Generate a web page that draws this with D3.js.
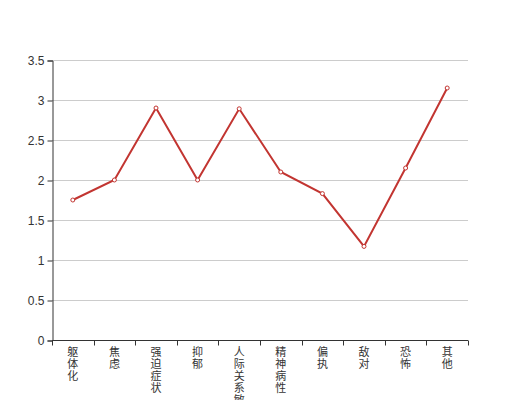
<!DOCTYPE html>
<html>
<head>
<meta charset="utf-8">
<script src="https://cdn.jsdelivr.net/npm/d3@7"></script>
<style>
body { margin: 0; background: #fff; }
text { font-family: "Noto Sans CJK SC", sans-serif; }
</style>
</head>
<body>
<div id="chart-area"></div>
<script>
const categories = ["躯体化", "焦虑", "强迫症状", "抑郁", "人际关系敏感", "精神病性", "偏执", "敌对", "恐怖", "其他"]
const values = [1.75, 2.0, 2.9, 2.0, 2.89, 2.1, 1.83, 1.17, 2.15, 3.15]
const yTicks = [0, 0.5, 1, 1.5, 2, 2.5, 3, 3.5]

const MARGIN = { LEFT: 52, RIGHT: 52, TOP: 60, BOTTOM: 60 }
const WIDTH = 520 - MARGIN.LEFT - MARGIN.RIGHT
const HEIGHT = 400 - MARGIN.TOP - MARGIN.BOTTOM

const svg = d3.select("#chart-area").append("svg")
	.attr("width", 520)
	.attr("height", 400)

const g = svg.append("g")
	.attr("transform", `translate(${MARGIN.LEFT}, ${MARGIN.TOP})`)

// scales
const x = d3.scaleBand().domain(categories).range([0, WIDTH])
const y = d3.scaleLinear().domain([0, 3.5]).range([HEIGHT, 0])

// grid lines
g.append("g")
	.selectAll("line")
	.data(yTicks.filter(d => d > 0))
	.enter().append("line")
	.attr("x1", 0)
	.attr("x2", WIDTH)
	.attr("y1", d => y(d) + 0.5)
	.attr("y2", d => y(d) + 0.5)
	.attr("stroke", "#ccc")

// y axis
const yAxis = g.append("g")
	.attr("transform", "translate(0.5, 0.5)")
	.call(d3.axisLeft(y).tickValues(yTicks).tickSize(5).tickPadding(3).tickFormat(d => d))
yAxis.select(".domain").attr("stroke", "#333")
yAxis.selectAll(".tick line").attr("stroke", "#333")
yAxis.selectAll(".tick text")
	.attr("fill", "#333")
	.attr("font-size", "12px")
	.style("font-family", "sans-serif")

// x axis, ticks on band boundaries
const xAxis = g.append("g")
	.attr("transform", `translate(0, ${HEIGHT + 0.5})`)
xAxis.append("line")
	.attr("x1", 0)
	.attr("x2", WIDTH)
	.attr("stroke", "#333")
xAxis.selectAll(".xtick")
	.data(categories.concat([null]))
	.enter().append("line")
	.attr("x1", (d, i) => Math.round(i * x.step()) + 0.5)
	.attr("x2", (d, i) => Math.round(i * x.step()) + 0.5)
	.attr("y1", 0)
	.attr("y2", 5)
	.attr("stroke", "#333")

// vertical category labels, one character per row
const labels = xAxis.selectAll(".xlabel")
	.data(categories)
	.enter().append("text")
	.attr("fill", "#333")
	.attr("font-size", "11px")
	.attr("text-anchor", "middle")
labels.selectAll("tspan")
	.data(d => d.split(""))
	.enter().append("tspan")
	.attr("x", function () { return x(d3.select(this.parentNode).datum()) + x.bandwidth() / 2 })
	.attr("y", (c, i) => 15.5 + i * 12)
	.text(c => c)

// line
const line = d3.line()
	.x((d, i) => x(categories[i]) + x.bandwidth() / 2)
	.y(d => y(d))

g.append("path")
	.attr("d", line(values))
	.attr("fill", "none")
	.attr("stroke", "#c23531")
	.attr("stroke-width", 2)

g.selectAll(".dot")
	.data(values)
	.enter().append("circle")
	.attr("cx", (d, i) => x(categories[i]) + x.bandwidth() / 2)
	.attr("cy", d => y(d))
	.attr("r", 2)
	.attr("fill", "#fff")
	.attr("stroke", "#c23531")
	.attr("stroke-width", 1)
</script>
</body>
</html>
